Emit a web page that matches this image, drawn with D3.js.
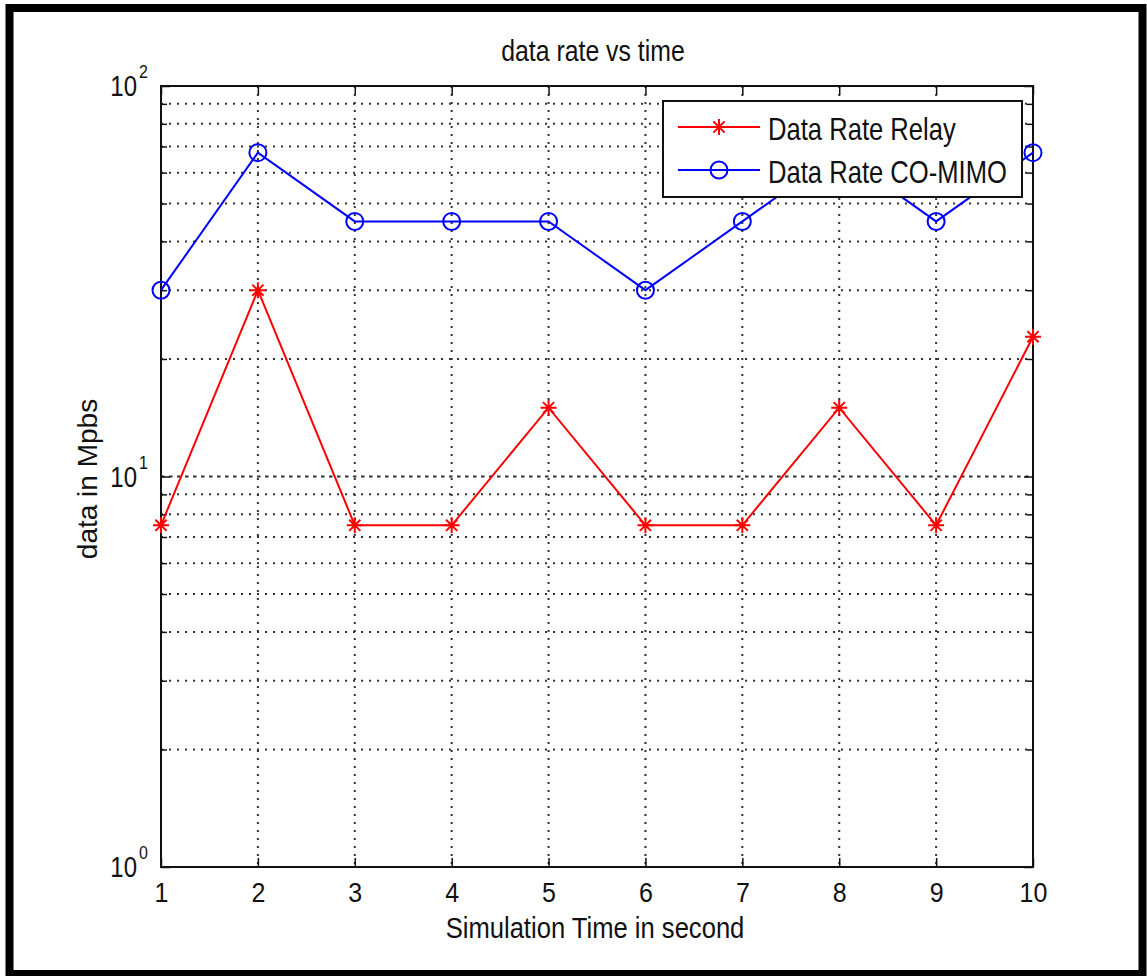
<!DOCTYPE html>
<html>
<head>
<meta charset="utf-8">
<script src="https://cdn.jsdelivr.net/npm/d3@7"></script>
<style>
  body { margin: 0; background: #fff; }
  text { font-family: "Liberation Sans", Arial, sans-serif; fill: #111; }
</style>
</head>
<body>
<div id="chart"></div>
<script>
const times = [1, 2, 3, 4, 5, 6, 7, 8, 9, 10];
const relayRate = [7.5, 30, 7.5, 7.5, 15, 7.5, 7.5, 15, 7.5, 22.8];
const comimoRate = [30, 67.5, 45, 45, 45, 30, 45, 67.5, 45, 67.5];
const seriesNames = ["Data Rate Relay", "Data Rate CO-MIMO"];
const yMajor = [1, 10, 100];
const yExp = ["0", "1", "2"];
const yMinor = [2, 3, 4, 5, 6, 7, 8, 9, 20, 30, 40, 50, 60, 70, 80, 90];

const W = 1147, H = 976;
const box = { left: 161, right: 1033, top: 86, bottom: 867 };

const svg = d3.select("#chart").append("svg")
    .attr("width", W)
    .attr("height", H);

const x = d3.scaleLinear().domain([1, 10]).range([box.left, box.right]);
const y = d3.scaleLog().domain([1, 100]).range([box.bottom, box.top]);

// grid
const grid = svg.append("g").attr("stroke", "#333").attr("stroke-width", 2);
grid.selectAll("line.v")
    .data(times.slice(1, -1))
    .join("line")
    .attr("x1", d => x(d)).attr("x2", d => x(d))
    .attr("y1", box.top).attr("y2", box.bottom)
    .attr("stroke-dasharray", "2,6");
grid.selectAll("line.h")
    .data(yMinor.concat([10]))
    .join("line")
    .attr("x1", box.left).attr("x2", box.right)
    .attr("y1", d => y(d)).attr("y2", d => y(d))
    .attr("stroke-dasharray", d => d === 10 ? "3.5,4.5" : "2,6");

// axes (ticks inward on all four sides)
const noLabel = () => "";
svg.append("g")
    .attr("transform", `translate(0,${box.bottom})`)
    .call(d3.axisBottom(x).tickValues(times).tickSize(-9).tickSizeOuter(0).tickFormat(d3.format("d")))
    .call(g => g.select(".domain").remove())
    .call(g => g.selectAll(".tick line").attr("stroke", "#111").attr("stroke-width", 1.5))
    .call(g => g.selectAll(".tick text")
        .attr("y", null).attr("dy", null)
        .attr("fill", "#111")
        .style("font-size", "25px")
        .attr("transform", "translate(0,35) scale(1,1.08)"));
svg.append("g")
    .attr("transform", `translate(0,${box.top})`)
    .call(d3.axisTop(x).tickValues(times).tickSize(-9).tickSizeOuter(0).tickFormat(noLabel))
    .call(g => g.select(".domain").remove())
    .call(g => g.selectAll(".tick line").attr("stroke", "#111").attr("stroke-width", 1.5));
[[d3.axisLeft, box.left], [d3.axisRight, box.right]].forEach(([ax, pos]) => {
    svg.append("g")
        .attr("transform", `translate(${pos},0)`)
        .call(ax(y).tickValues(yMajor).tickSize(-9).tickSizeOuter(0).tickFormat(noLabel))
        .call(g => g.select(".domain").remove())
        .call(g => g.selectAll(".tick line").attr("stroke", "#111").attr("stroke-width", 1.5));
    svg.append("g")
        .attr("transform", `translate(${pos},0)`)
        .call(ax(y).tickValues(yMinor).tickSize(-6).tickSizeOuter(0).tickFormat(noLabel))
        .call(g => g.select(".domain").remove())
        .call(g => g.selectAll(".tick line").attr("stroke", "#111").attr("stroke-width", 1.5));
});

// y tick labels 10^n
const yl = svg.append("g").selectAll("g")
    .data(yMajor)
    .join("g")
    .attr("transform", d => `translate(137,${y(d) + 10}) scale(1,1.2)`);
yl.append("text")
    .attr("text-anchor", "end")
    .style("font-size", "24px")
    .text("10");
yl.append("text")
    .attr("x", 2)
    .attr("y", -15)
    .style("font-size", "16px")
    .text((d, i) => yExp[i]);

// axis box
svg.append("rect")
    .attr("x", box.left).attr("y", box.top)
    .attr("width", box.right - box.left)
    .attr("height", box.bottom - box.top)
    .attr("fill", "none")
    .attr("stroke", "#111")
    .attr("stroke-width", 2);

// series
const starPath = (cx, cy, r = 8) => {
    const k = r * 0.7;
    return `M${cx - r},${cy}H${cx + r}M${cx},${cy - r}V${cy + r}` +
        `M${cx - k},${cy - k}L${cx + k},${cy + k}M${cx - k},${cy + k}L${cx + k},${cy - k}`;
};
const line = d3.line().x(d => x(d[0])).y(d => y(d[1]));
const relayPts = times.map((t, i) => [t, relayRate[i]]);
const comimoPts = times.map((t, i) => [t, comimoRate[i]]);

svg.append("path")
    .datum(relayPts)
    .attr("d", line)
    .attr("fill", "none")
    .attr("stroke", "#ff0000")
    .attr("stroke-width", 2);
svg.append("g").selectAll("path")
    .data(relayPts)
    .join("path")
    .attr("d", d => starPath(x(d[0]), y(d[1])))
    .attr("stroke", "#ff0000")
    .attr("stroke-width", 2);

svg.append("path")
    .datum(comimoPts)
    .attr("d", line)
    .attr("fill", "none")
    .attr("stroke", "#0000ff")
    .attr("stroke-width", 2);
svg.append("g").selectAll("circle")
    .data(comimoPts)
    .join("circle")
    .attr("cx", d => x(d[0]))
    .attr("cy", d => y(d[1]))
    .attr("r", 8.5)
    .attr("fill", "none")
    .attr("stroke", "#0000ff")
    .attr("stroke-width", 2);

// legend
const legend = svg.append("g");
legend.append("rect")
    .attr("x", 663).attr("y", 101)
    .attr("width", 359).attr("height", 96)
    .attr("fill", "#fff")
    .attr("stroke", "#111")
    .attr("stroke-width", 2);
const legColors = ["#ff0000", "#0000ff"];
const rows = legend.selectAll("g.row")
    .data(seriesNames)
    .join("g")
    .attr("transform", (d, i) => `translate(0,${127 + i * 43})`);
rows.append("line")
    .attr("x1", 678).attr("x2", 760)
    .attr("stroke", (d, i) => legColors[i])
    .attr("stroke-width", 2);
rows.filter((d, i) => i === 0).append("path")
    .attr("d", starPath(719, 0))
    .attr("stroke", legColors[0])
    .attr("stroke-width", 2);
rows.filter((d, i) => i === 1).append("circle")
    .attr("cx", 719).attr("r", 8.5)
    .attr("fill", "none")
    .attr("stroke", legColors[1])
    .attr("stroke-width", 2);
rows.append("text")
    .attr("transform", "translate(768,13) scale(1,1.2)")
    .style("font-size", "25.6px")
    .text(d => d);

// titles
svg.append("text")
    .attr("transform", "translate(593,61) scale(0.97,1.15)")
    .attr("text-anchor", "middle")
    .style("font-size", "25.6px")
    .text("data rate vs time");
svg.append("text")
    .attr("transform", "translate(595,938) scale(1,1.15)")
    .attr("text-anchor", "middle")
    .style("font-size", "25.6px")
    .text("Simulation Time in second");
svg.append("text")
    .attr("transform", "translate(97,479) rotate(-90)")
    .attr("text-anchor", "middle")
    .style("font-size", "28px")
    .text("data in Mpbs");

// outer frame
svg.append("rect")
    .attr("x", 9.5).attr("y", 8)
    .attr("width", 1133).attr("height", 966)
    .attr("fill", "none")
    .attr("stroke", "#000")
    .attr("stroke-width", 8);
</script>
</body>
</html>
